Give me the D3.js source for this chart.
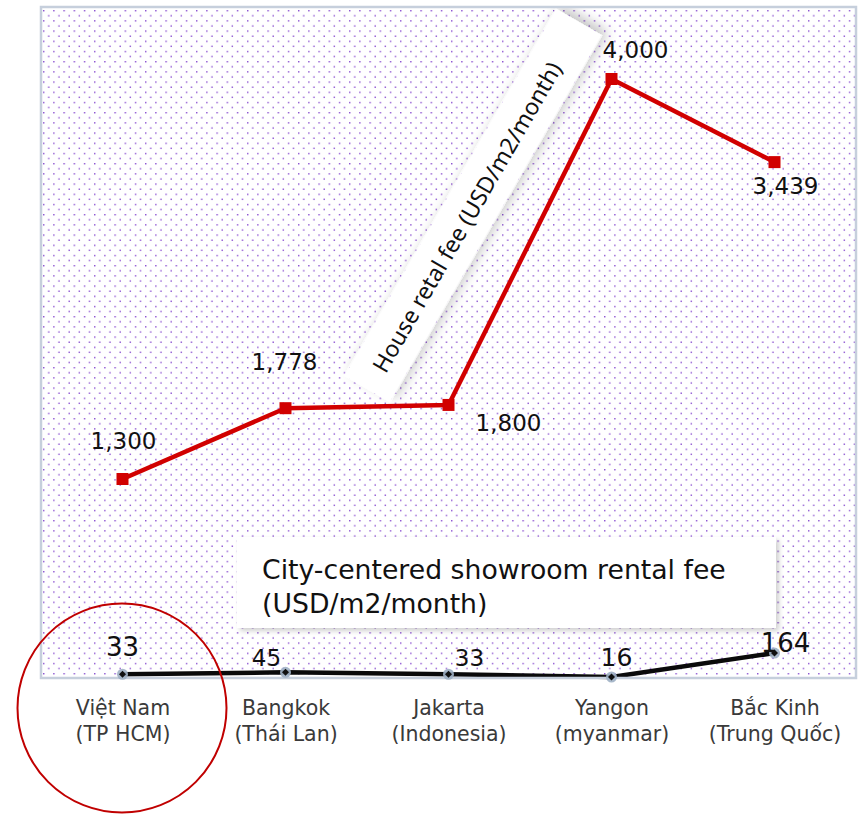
<!DOCTYPE html>
<html>
<head>
<meta charset="utf-8">
<script src="https://cdn.jsdelivr.net/npm/d3@7/dist/d3.min.js"></script>
<style>
  html, body { margin: 0; padding: 0; background: #fff; }
  svg { display: block; }
</style>
</head>
<body>
<svg id="chart" width="863" height="815"></svg>
<script>
// ---- data ----
const cityNames   = ["Việt Nam", "Bangkok", "Jakarta", "Yangon", "Bắc Kinh"];
const cityRegions = ["(TP HCM)", "(Thái Lan)", "(Indonesia)", "(myanmar)", "(Trung Quốc)"];
const houseRent    = [1300, 1778, 1800, 4000, 3439];   // USD/m2/month
const showroomRent = [33, 45, 33, 16, 164];            // USD/m2/month
const houseTitle    = "House retal fee (USD/m2/month)";
const showroomTitle = ["City-centered showroom rental fee", "(USD/m2/month)"];

// ---- layout (label placement relative to marker) ----
const houseLabelPos    = [[1, -30], [-1, -38], [60, 26], [24, -21], [11, 32]];
const showroomLabelPos = [[0, -18, 26], [-19, -6, 23], [21, -8, 23], [5, -11, 25], [11, -1, 26]];

const svg = d3.select("#chart");
const P = { left: 41, right: 856, top: 7, bottom: 678 };
const FONT = "'DejaVu Sans', Verdana, sans-serif";

const x = d3.scalePoint().domain(d3.range(cityNames.length))
  .range([P.left, P.right]).padding(0.5);
const yHouse = d3.scaleLinear().domain([0, 4486]).range([671.6, P.top]);
const yShow  = d3.scaleLinear().domain([0, 4150]).range([679.6, P.top]);

// defs
const defs = svg.append("defs");
const pat = defs.append("pattern").attr("id", "dots")
  .attr("patternUnits", "userSpaceOnUse").attr("width", 10.2).attr("height", 10.2)
  .attr("x", P.left + 2).attr("y", P.top + 3);
pat.append("rect").attr("x", 0).attr("y", 0).attr("width", 1.4).attr("height", 1.4).attr("fill", "#8a4fd0");
pat.append("rect").attr("x", 5.1).attr("y", 5.1).attr("width", 1.4).attr("height", 1.4).attr("fill", "#8a4fd0");

const sh1 = defs.append("filter").attr("id", "shadowBand")
  .attr("x", "-20%").attr("y", "-60%").attr("width", "140%").attr("height", "220%");
sh1.append("feDropShadow").attr("dx", 6).attr("dy", 3).attr("stdDeviation", 6)
  .attr("flood-color", "#000").attr("flood-opacity", 0.22);
const sh2 = defs.append("filter").attr("id", "shadowBox")
  .attr("x", "-10%").attr("y", "-20%").attr("width", "120%").attr("height", "140%");
sh2.append("feDropShadow").attr("dx", 3).attr("dy", 3).attr("stdDeviation", 2.5)
  .attr("flood-color", "#000").attr("flood-opacity", 0.18);

const clip = defs.append("clipPath").attr("id", "plotClip");
clip.append("rect").attr("x", P.left).attr("y", P.top)
  .attr("width", P.right - P.left).attr("height", P.bottom - P.top);

// plot background
svg.append("rect").attr("x", P.left).attr("y", P.top)
  .attr("width", P.right - P.left).attr("height", P.bottom - P.top)
  .attr("fill", "#fff");
svg.append("rect").attr("x", P.left).attr("y", P.top)
  .attr("width", P.right - P.left).attr("height", P.bottom - P.top)
  .attr("fill", "url(#dots)");

// rotated title band for house rent
const band = svg.append("g").attr("clip-path", "url(#plotClip)")
  .append("g").attr("transform", "translate(473,205.5) rotate(-60)");
band.append("rect").attr("x", -212).attr("y", -26.5).attr("width", 424).attr("height", 53)
  .attr("fill", "#fff").attr("filter", "url(#shadowBand)");
band.append("text").attr("x", -13).attr("y", 9).attr("text-anchor", "middle")
  .attr("font-family", "'Noto Sans', 'Open Sans', sans-serif").attr("font-size", 23)
  .attr("fill", "#111").text(houseTitle);

// black showroom line
const showPts = showroomRent.map((v, i) => [x(i), yShow(v)]);
svg.append("path").datum(showPts)
  .attr("d", d3.line())
  .attr("fill", "none").attr("stroke", "#0a0a0a").attr("stroke-width", 4.5)
  .attr("stroke-linejoin", "round");

// plot border
svg.append("rect").attr("x", P.left).attr("y", P.top)
  .attr("width", P.right - P.left).attr("height", P.bottom - P.top)
  .attr("fill", "none").attr("stroke", "#c6cfdc").attr("stroke-width", 2.5);

// showroom markers
const sm = svg.append("g").selectAll("g").data(showPts).join("g")
  .attr("transform", d => `translate(${d[0]},${d[1]})`);
sm.append("circle").attr("r", 5.5).attr("fill", "#9fb0c4").attr("opacity", 0.9);
sm.append("path").attr("d", "M0,-3.5L3.5,0L0,3.5L-3.5,0Z").attr("fill", "#111");

// showroom legend box
svg.append("rect").attr("x", 237).attr("y", 537).attr("width", 539).attr("height", 91)
  .attr("fill", "#fff").attr("filter", "url(#shadowBox)");
svg.append("text").attr("font-family", FONT).attr("font-size", 26.7).attr("fill", "#111")
  .selectAll("tspan").data(showroomTitle).join("tspan")
  .attr("x", 262).attr("y", (d, i) => 579 + i * 34).text(d => d);

// showroom labels
svg.append("g").selectAll("text").data(showroomRent).join("text")
  .attr("x", (d, i) => x(i) + showroomLabelPos[i][0])
  .attr("y", (d, i) => yShow(d) + showroomLabelPos[i][1])
  .attr("text-anchor", "middle").attr("font-family", FONT)
  .attr("font-size", (d, i) => showroomLabelPos[i][2]).attr("fill", "#111")
  .text(d => d3.format(",")(d));

// red house line
const housePts = houseRent.map((v, i) => [x(i), yHouse(v)]);
svg.append("path").datum(housePts)
  .attr("d", d3.line())
  .attr("fill", "none").attr("stroke", "#d10000").attr("stroke-width", 4.5)
  .attr("stroke-linejoin", "round");
svg.append("g").selectAll("rect").data(housePts).join("rect")
  .attr("x", d => d[0] - 6).attr("y", d => d[1] - 6)
  .attr("width", 12).attr("height", 12).attr("fill", "#d10000");
svg.append("g").selectAll("text").data(houseRent).join("text")
  .attr("x", (d, i) => x(i) + houseLabelPos[i][0])
  .attr("y", (d, i) => yHouse(d) + houseLabelPos[i][1])
  .attr("text-anchor", "middle").attr("font-family", FONT)
  .attr("font-size", 23).attr("fill", "#111")
  .text(d => d3.format(",")(d));

// category axis
const axis = svg.append("g").attr("transform", `translate(0,${P.bottom})`)
  .call(d3.axisBottom(x).tickSize(0).tickFormat(""));
axis.select(".domain").remove();
axis.selectAll(".tick text").remove();
axis.selectAll(".tick").append("text")
  .attr("text-anchor", "middle").attr("font-family", FONT).attr("font-size", 20.5)
  .attr("fill", "#3a3a3a")
  .each(function(d) {
    const t = d3.select(this);
    t.append("tspan").attr("x", 0).attr("y", 37).text(cityNames[d]);
    t.append("tspan").attr("x", 0).attr("y", 63).text(cityRegions[d]);
  });

// highlight circle
svg.append("circle").attr("cx", 122).attr("cy", 708).attr("r", 104.5)
  .attr("fill", "none").attr("stroke", "#c00000").attr("stroke-width", 2);
</script>
</body>
</html>
